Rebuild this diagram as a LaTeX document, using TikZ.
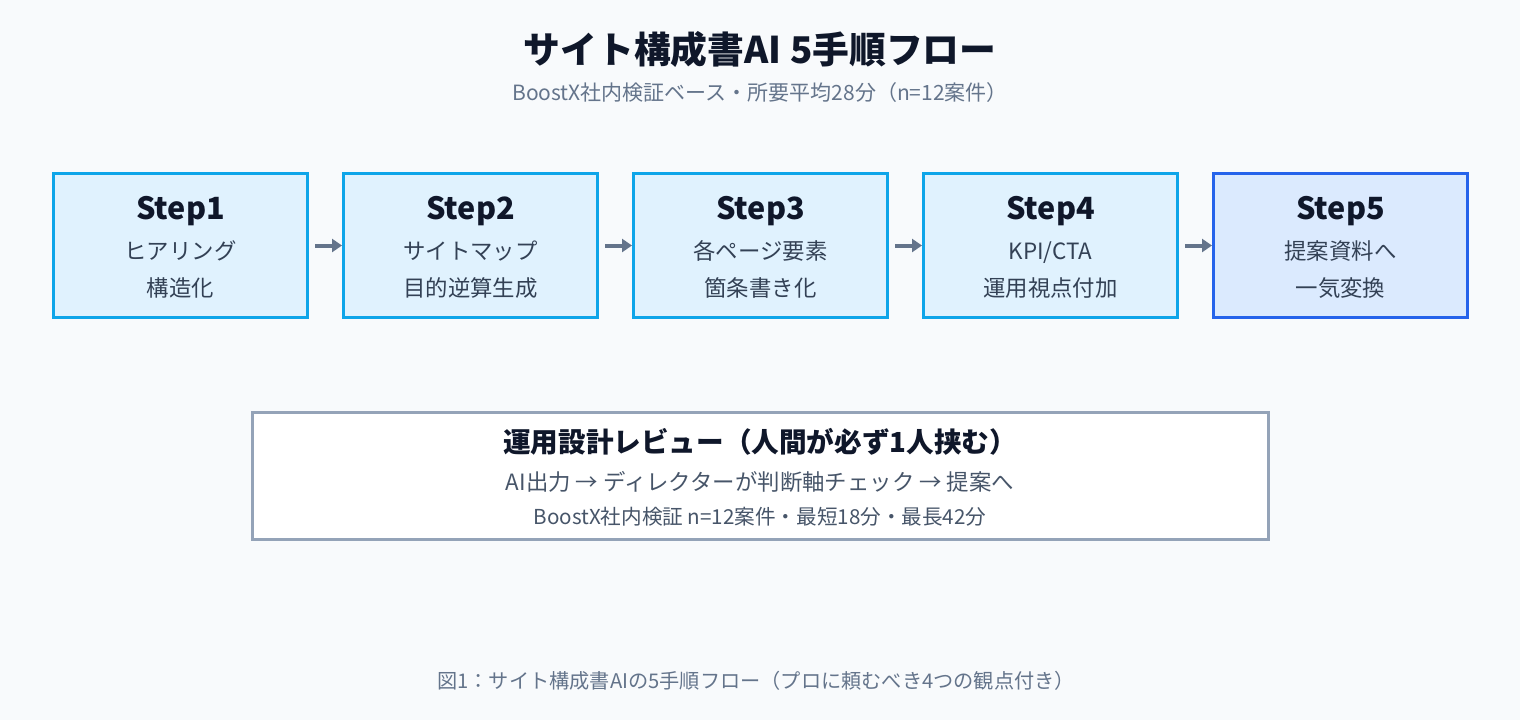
\documentclass[tikz,border=0pt]{standalone}
\usepackage{fontspec}
\setmainfont{Noto Sans CJK JP}
\usetikzlibrary{arrows.meta}
\definecolor{bg}{HTML}{F8FAFC}
\definecolor{ink}{HTML}{0F172A}
\definecolor{muted}{HTML}{64748B}
\definecolor{body}{HTML}{334155}
\definecolor{skyb}{HTML}{0EA5E9}
\definecolor{skyf}{HTML}{E0F2FE}
\definecolor{blueb}{HTML}{2563EB}
\definecolor{bluef}{HTML}{DBEAFE}
\definecolor{revb}{HTML}{94A3B8}
\definecolor{revt}{HTML}{475569}
\newcommand{\fs}[1]{\fontsize{#1pt}{#1pt}\selectfont}
\tikzset{
  stepbox/.style={draw=skyb, fill=skyf, line width=1.5pt, minimum width=127pt, minimum height=72pt, inner sep=0pt},
  finalbox/.style={stepbox, draw=blueb, fill=bluef},
  steptitle/.style={anchor=base, inner sep=0pt, text=ink, font=\fs{15.3}\bfseries},
  stepline/.style={anchor=base, inner sep=0pt, text=body, font=\fs{11.2}},
  flow/.style={draw=muted, line width=2pt, -{Triangle[length=5pt,width=6.5pt]}, shorten <=3pt},
}
\begin{document}
\begin{tikzpicture}[x=0.5pt,y=-0.5pt]
\useasboundingbox (0,0) rectangle (1520,720);
\fill[bg] (0,0) rectangle (1520,720);
\node[anchor=base, inner sep=0pt, text=ink, font=\fs{18.4}\bfseries] (title) at (760,63.5) {サイト構成書AI 5手順フロー};
\node[anchor=base, inner sep=0pt, text=muted, font=\fs{10.5}] (sub) at (760,100.5) {BoostX社内検証ベース・所要平均28分（n=12案件）};

\node[stepbox] (s1) at (180.5,245.5) {};
\node[stepbox] (s2) at (470.5,245.5) {};
\node[stepbox] (s3) at (760.5,245.5) {};
\node[stepbox] (s4) at (1050.5,245.5) {};
\node[finalbox] (s5) at (1340.5,245.5) {};

\node[steptitle] (t1) at (180.5,219) {Step1};
\node[stepline] (a1) at (180.5,259.4) {ヒアリング};
\node[stepline] (b1) at (180.5,296.4) {構造化};
\node[steptitle] (t2) at (470.5,219) {Step2};
\node[stepline] (a2) at (470.5,259.4) {サイトマップ};
\node[stepline] (b2) at (470.5,296.4) {目的逆算生成};
\node[steptitle] (t3) at (760.5,219) {Step3};
\node[stepline] (a3) at (760.5,259.4) {各ページ要素};
\node[stepline] (b3) at (760.5,296.4) {箇条書き化};
\node[steptitle] (t4) at (1050.5,219) {Step4};
\node[stepline] (a4) at (1050.5,259.4) {KPI/CTA};
\node[stepline] (b4) at (1050.5,296.4) {運用視点付加};
\node[steptitle] (t5) at (1340.5,219) {Step5};
\node[stepline] (a5) at (1340.5,259.4) {提案資料へ};
\node[stepline] (b5) at (1340.5,296.4) {一気変換};

\draw[flow] (s1.east) -- (s2.west);
\draw[flow] (s2.east) -- (s3.west);
\draw[flow] (s3.east) -- (s4.west);
\draw[flow] (s4.east) -- (s5.west);

\node[draw=revb, fill=white, line width=1.5pt, minimum width=508pt, minimum height=63.5pt, inner sep=0pt] (rev) at (760.5,475.5) {};
\node[anchor=base, inner sep=0pt, text=ink, font=\fs{13.8}\bfseries] (rt) at (760,452.6) {運用設計レビュー（人間が必ず1人挟む）};
\node[anchor=base, inner sep=0pt, text=revt, font=\fs{11.2}] (r2) at (760,490.4) {AI出力 → ディレクターが判断軸チェック → 提案へ};
\node[anchor=base, inner sep=0pt, text=revt, font=\fs{10.3}] (r3) at (760,524) {BoostX社内検証 n=12案件・最短18分・最長42分};

\node[anchor=base, inner sep=0pt, text=muted, font=\fs{10.1}] (cap) at (756,688.5) {図1：サイト構成書AIの5手順フロー（プロに頼むべき4つの観点付き）};
\end{tikzpicture}
\end{document}
